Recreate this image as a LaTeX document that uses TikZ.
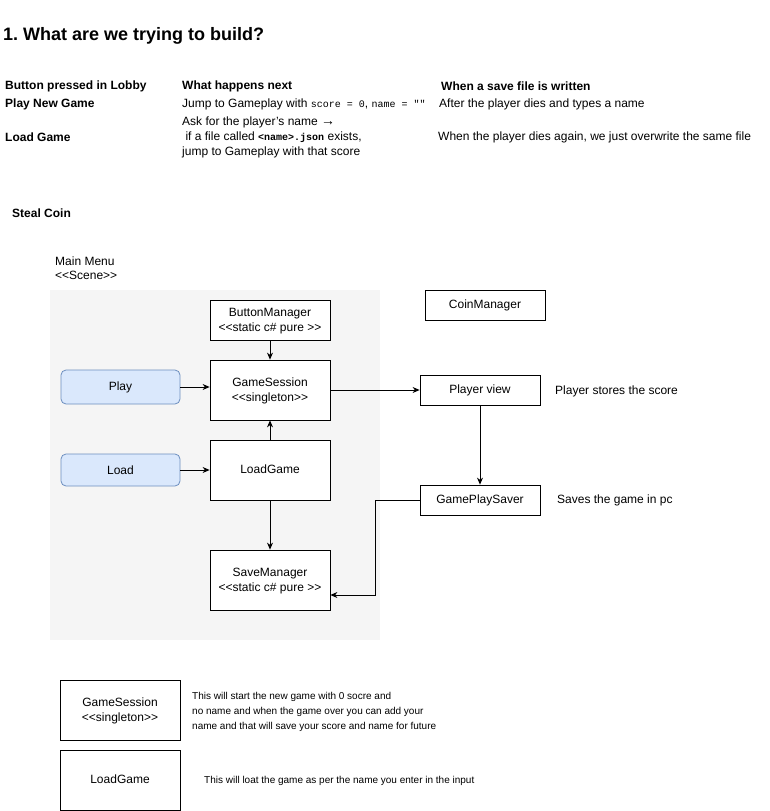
\documentclass[tikz,border=0pt]{standalone}
\usepackage{fontspec}
\setmainfont{Liberation Sans}[Ligatures=NoCommon]
\setmonofont{Liberation Mono}
\usetikzlibrary{arrows.meta}
\definecolor{bgray}{HTML}{F5F5F5}
\definecolor{bluefill}{HTML}{DAE8FC}
\definecolor{bluedraw}{HTML}{6C8EBF}
\newcommand{\stereoL}{{<}{<}}
\newcommand{\stereoR}{{>}{>}}
\frenchspacing
\begin{document}
\begin{tikzpicture}[x=1pt,y=-1pt,
  txt/.style={anchor=west,inner sep=0pt,font=\fontsize{12}{14}\selectfont},
  btxt/.style={txt,font=\fontsize{12}{14}\selectfont\bfseries},
  small/.style={anchor=west,inner sep=0pt,align=left,font=\fontsize{10}{15}\selectfont},
  box/.style={draw=black,fill=white,line width=0.8pt,minimum width=120pt,align=center,inner sep=0pt,text depth=1pt,font=\fontsize{12}{15}\selectfont},
  btn/.style={draw=bluedraw,fill=bluefill,rounded corners=5pt,line width=0.8pt,minimum width=119pt,align=center,inner sep=0pt,font=\fontsize{12}{15}\selectfont},
  arr/.style={-{Stealth[length=7pt,width=6pt]},line width=0.8pt}
]
\useasboundingbox (0,0) rectangle (770,811);
% title
\node[anchor=west,inner sep=0pt,font=\fontsize{18}{20}\selectfont\bfseries] (title) at (3,36) {1. What are we trying to build?};
% table
\node[btxt] (h1) at (5,86) {Button pressed in Lobby};
\node[btxt] (h2) at (182,86) {What happens next};
\node[btxt] (h3) at (441,86) {When a save file is written};
\node[btxt] (r1a) at (5,104) {Play New Game};
\node[txt] (r1b) at (182,104) {Jump to Gameplay with {\ttfamily\fontsize{10}{12}\selectfont score = 0}, {\ttfamily\fontsize{10}{12}\selectfont name = ""}};
\node[txt] (r1c) at (439,104) {After the player dies and types a name};
\node[txt] (r2b1) at (182,122) {Ask for the player’s name {\fontsize{14}{14}\selectfont →}};
\node[btxt] (r2a) at (5,137) {Load Game};
\node[txt] (r2b2) at (182,137) {\ if a file called {\ttfamily\bfseries\fontsize{10}{12}\selectfont <name>.json} exists,};
\node[txt] (r2b3) at (182,152) {jump to Gameplay with that score};
\node[txt] (r2c) at (438,137) {When the player dies again, we just overwrite the same file};
% steal coin
\node[btxt] (steal) at (12,213) {Steal Coin};
\node[txt,align=left,font=\fontsize{12}{14}\selectfont,anchor=north west] (mm) at (55,257) {Main Menu\\\stereoL Scene\stereoR};
% scene background
\fill[bgray] (50,290) rectangle (380,640);
% nodes
\node[box,minimum height=40pt] (bm) at (270,320) {ButtonManager\\\stereoL static c\# pure \stereoR};
\node[box,minimum height=60pt] (gs) at (270,390) {GameSession\\\stereoL singleton\stereoR};
\node[box,minimum height=60pt] (lg) at (270,470) {LoadGame};
\node[box,minimum height=60pt] (sm) at (270,580) {SaveManager\\\stereoL static c\# pure \stereoR};
\node[btn,minimum height=34pt] (play) at (120.5,387) {Play};
\node[btn,minimum height=32pt] (load) at (120.5,470) {Load};
\node[box,minimum height=30pt] (cm) at (485,305) {CoinManager};
\node[box,minimum height=30pt] (pv) at (480,390) {Player view};
\node[box,minimum height=30pt] (gps) at (480,500) {GamePlaySaver};
\node[txt] (pvt) at (555,391) {Player stores the score};
\node[txt] (gpst) at (557,500) {Saves the game in pc};
% connectors
\draw[arr] (bm) -- (gs);
\draw[arr] (play) -- (gs.west |- play);
\draw[arr] (lg) -- (gs);
\draw[arr] (load) -- (lg.west |- load);
\draw[arr] (gs) -- (pv);
\draw[arr] (pv) -- (gps);
\draw[arr] (lg) -- (sm);
\coordinate (c1) at (375,500);
\coordinate (c2) at (375,595);
\draw[arr] (gps.west) -- (c1) -- (c2) -- (sm.east |- c2);
% bottom legend
\node[box,minimum height=60pt] (gs2) at (120,710) {GameSession\\\stereoL singleton\stereoR};
\node[box,minimum height=60pt] (lg2) at (120,780) {LoadGame};
\node[small] (gs2t) at (192,712) {This will start the new game with 0 socre and\\no name and when the game over you can add your\\name and that will save your score and name for future};
\node[small] (lg2t) at (204,781) {This will loat the game as per the name you enter in the input};
\end{tikzpicture}
\end{document}
